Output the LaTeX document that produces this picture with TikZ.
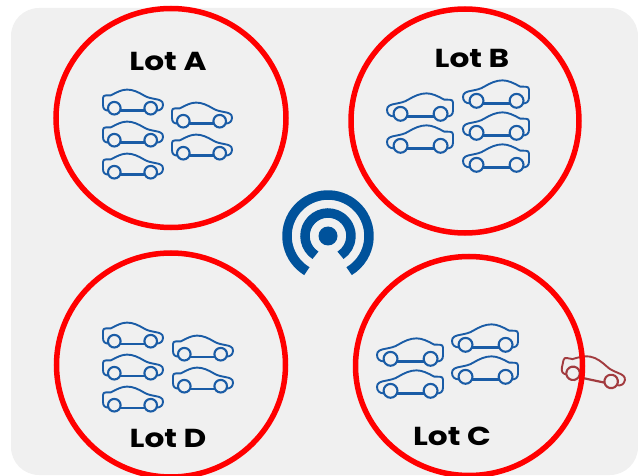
\documentclass[tikz,border=0pt]{standalone}
\usepackage{fontspec}
\setmainfont{Poppins}[FakeStretch=1.2]
\usetikzlibrary{shapes.geometric}
\definecolor{carblue}{HTML}{1A5CA6}
\definecolor{carred}{HTML}{A23B3F}
\definecolor{signalblue}{HTML}{00529B}
\definecolor{panel}{HTML}{F0F0F0}
\tikzset{
    car/.pic = {
        \draw[line width = 1.9pt, line join = round, pic actions]
            (-24.3,8.6) .. controls (-28,8.6) and (-30,7) .. (-30,3) -- (-30,-4)
            .. controls (-30,-6) and (-29,-6.5) .. (-27,-6.6) -- (-22,-6.7)
            .. controls (-16,-10) and (-11,-12.4) .. (-6,-12.4)
            .. controls (0,-12.4) and (5,-10) .. (10.7,-6.7)
            .. controls (14,-4.5) and (18,-3.8) .. (22,-3)
            .. controls (27,-2.2) and (30,-1) .. (30,2.5)
            .. controls (30,6) and (28,8.6) .. (23.3,8.6);
        \draw[line width = 2.2pt, pic actions] (-13,8.6) -- (12,8.6);
        \draw[line width = 2.1pt, pic actions] (-18.7,6.2) circle (6.3);
        \draw[line width = 2.1pt, pic actions] (17.7,6.2) circle (6.3);
    }
}
\begin{document}
\begin{tikzpicture}[x = 1pt, y = -1pt,
    lot/.style = {draw = red, line width = 5.5pt, ellipse, inner sep = 0pt},
    lotname/.style = {font = \fontsize{26}{26}\selectfont\bfseries, text = black},
    ring/.style = {draw = signalblue, line width = 9.5pt}]
    \useasboundingbox (0,0) rectangle (638,476);
    \fill[panel, rounded corners = 28pt] (11,8) rectangle (638,475);
    % cars
    \foreach \cx/\cy in {133/102, 133/134, 133/166, 202/115, 202/147}
        \pic[draw = carblue] at (\cx,\cy) {car};
    \foreach \cx/\cy in {420/107, 420/139, 496/94, 496/126, 496/158}
        \pic[draw = carblue, scale = 1.1, xscale = -1] at (\cx,\cy) {car};
    \foreach \cx/\cy in {410/352, 410/384, 485/338, 485/370}
        \pic[draw = carblue, scale = 1.1, xscale = -1] at (\cx,\cy) {car};
    \foreach \cx/\cy in {133/335, 133/367, 133/399, 203/348, 203/380}
        \pic[draw = carblue] at (\cx,\cy) {car};
    \pic[draw = carred, scale = 1.07, rotate = -12] at (594,371) {car};
    % lots
    \node[lot, minimum width = 230pt, minimum height = 219pt] (lotA) at (171,118) {};
    \node[lot, minimum width = 228pt, minimum height = 224pt] (lotB) at (465,121) {};
    \node[lot, minimum width = 227pt, minimum height = 219pt] (lotC) at (469,366) {};
    \node[lot, minimum width = 229pt, minimum height = 224pt] (lotD) at (171,365) {};
    \node[lotname] (nameA) at (168,61) {Lot A};
    \node[lotname] (nameB) at (472,58) {Lot B};
    \node[lotname] (nameC) at (452,436) {Lot C};
    \node[lotname] (nameD) at (168,438) {Lot D};
    % signal
    \coordinate (sig) at (328,236);
    \fill[signalblue] (sig) circle (9.5);
    \draw[ring] ([shift = {(123:23)}] sig) arc (123:417:23);
    \draw[ring] ([shift = {(121:41)}] sig) arc (121:419:41);
\end{tikzpicture}
\end{document}
